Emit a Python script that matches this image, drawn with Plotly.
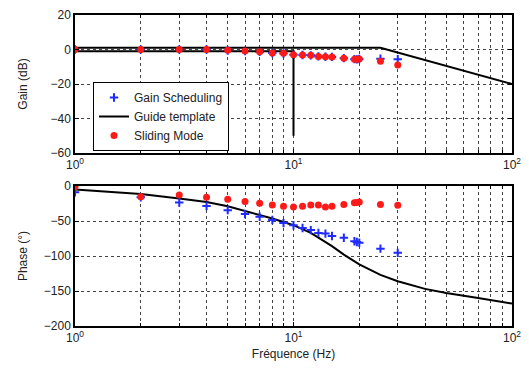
import plotly.graph_objects as go

# ---- data ----
freq_pts = [1, 2, 3, 4, 5, 6, 7, 8, 9, 10, 11, 12, 13, 14, 15, 17, 19, 19.5, 20, 25, 30]

gain_gs = [0, 0, 0, 0, -0.6, -0.9, -1.4, -2.0, -2.3, -3.0, -3.2, -3.4, -4.0, -4.2, -4.3, -5.0, -5.6, -5.7, -5.5, -5.4, -5.6]
gain_sm = [0, 0, 0, 0, -0.5, -0.8, -1.3, -2.0, -2.2, -3.0, -3.2, -3.4, -4.0, -4.2, -4.3, -5.0, -5.6, -5.7, -5.5, -6.8, -9.0]

phase_gs = [-9, -16, -23.5, -28.5, -34.5, -40, -44, -48.5, -53, -56, -60, -63, -67, -68, -71.5, -74, -79, -80, -81, -89.5, -95.5]
phase_sm = [-1, -15.5, -13, -16, -19, -22, -24.5, -27, -29, -30, -29, -27, -27, -30, -29, -26.5, -24, -23.5, -23, -26.5, -27.5]

# guide template (gain): upper bound and lower bound, separated by None
tmpl_gain_f = [1, 25, 100, None, 1, 10, 10]
tmpl_gain_db = [1, 1, -20, None, -1, -1, -50]

# guide template (phase)
tmpl_phase_f = [1, 2, 3, 4, 5, 6, 7, 8, 9, 10, 12, 15, 17, 20, 25, 30, 40, 50, 70, 100]
tmpl_phase_deg = [-5, -11.5, -18, -23, -29, -35.5, -41, -46.5, -51.5, -56, -67, -86, -98, -112, -127, -136, -147, -153, -160, -168]

gain_ticks = [20, 0, -20, -40, -60]
phase_ticks = [0, -50, -100, -150, -200]
decade_vals = [1, 10, 100]
decade_text = ["10<sup>0</sup>", "10<sup>1</sup>", "10<sup>2</sup>"]

# ---- figure geometry (page body has an 8px margin) ----
OFF = 8
W, H = 513, 358
L = 75 - OFF
T = 15 - OFF
R = W - (512 - OFF)
B = H - (326 - OFF)
blue = "#1f2bff"
red = "#ff1a1a"
FONT = "Liberation Sans, Arial, Helvetica"

fig = go.Figure()

fig.add_trace(go.Scatter(x=freq_pts, y=gain_gs, mode="markers", name="Gain Scheduling",
                         marker=dict(symbol="cross-thin", size=6, line=dict(color=blue, width=2), color=blue),
                         xaxis="x", yaxis="y"))
fig.add_trace(go.Scatter(x=tmpl_gain_f, y=tmpl_gain_db, mode="lines", name="Guide template",
                         line=dict(color="black", width=2), connectgaps=False,
                         xaxis="x", yaxis="y"))
fig.add_trace(go.Scatter(x=freq_pts, y=gain_sm, mode="markers", name="Sliding Mode",
                         marker=dict(symbol="circle", size=7, color=red),
                         xaxis="x", yaxis="y"))

fig.add_trace(go.Scatter(x=tmpl_phase_f, y=tmpl_phase_deg, mode="lines", showlegend=False,
                         line=dict(color="black", width=2), xaxis="x2", yaxis="y2"))
fig.add_trace(go.Scatter(x=freq_pts, y=phase_gs, mode="markers", showlegend=False,
                         marker=dict(symbol="cross-thin", size=6, line=dict(color=blue, width=2), color=blue),
                         xaxis="x2", yaxis="y2"))
fig.add_trace(go.Scatter(x=freq_pts, y=phase_sm, mode="markers", showlegend=False,
                         marker=dict(symbol="circle", size=7, color=red),
                         xaxis="x2", yaxis="y2"))

plot_h = H - T - B
def frac(page_px):
    return (H - B - (page_px - OFF)) / plot_h

top_dom = [frac(153), 1.0]
bot_dom = [0.0, frac(186)]

minor_vals = [k * 10 ** e for e in range(0, 2) for k in range(2, 10)]
tickfont = dict(family=FONT, size=12, color="#222")

common_x = dict(type="log", range=[0, 2], showline=True, linecolor="black", linewidth=1.5,
                mirror="ticks", ticks="inside", ticklen=4, tickcolor="black",
                tickvals=decade_vals, ticktext=decade_text, automargin=False,
                ticklabeloverflow="allow",
                showgrid=True, gridcolor="#444", griddash="dot", gridwidth=1,
                minor=dict(tickvals=minor_vals, ticks="inside", ticklen=3, tickcolor="black",
                           showgrid=True, gridcolor="#444", griddash="dot", gridwidth=1),
                tickfont=tickfont, zeroline=False)
common_y = dict(showline=True, linecolor="black", linewidth=1.5, mirror="ticks",
                ticks="inside", ticklen=4, tickcolor="black", automargin=False,
                ticklabeloverflow="allow",
                showgrid=True, gridcolor="#444", griddash="dot", gridwidth=1, zeroline=False,
                tickfont=tickfont)

fig.update_layout(
    width=W, height=H,
    margin=dict(l=L, r=R, t=T, b=B),
    paper_bgcolor="white", plot_bgcolor="white",
    font=dict(family=FONT, size=12, color="#222"),
    xaxis=dict(common_x, anchor="y", domain=[0, 1]),
    yaxis=dict(common_y, domain=top_dom, range=[-60, 20], tickvals=gain_ticks,
               title=dict(text="Gain (dB)", standoff=20, font=dict(family=FONT, size=12))),
    xaxis2=dict(common_x, anchor="y2", domain=[0, 1],
                title=dict(text="Fréquence (Hz)", standoff=5, font=dict(family=FONT, size=12))),
    yaxis2=dict(common_y, domain=bot_dom, range=[-200, 0], tickvals=phase_ticks,
                title=dict(text="Phase (°)", standoff=14, font=dict(family=FONT, size=12))),
    legend=dict(x=(93 - 75) / (512 - 75), y=frac(151), xanchor="left", yanchor="bottom",
                bgcolor="white", bordercolor="black", borderwidth=1,
                font=dict(family=FONT, size=12, color="#222"),
                tracegroupgap=0, itemwidth=30),
    showlegend=True,
)

fig.write_html("out.html")
